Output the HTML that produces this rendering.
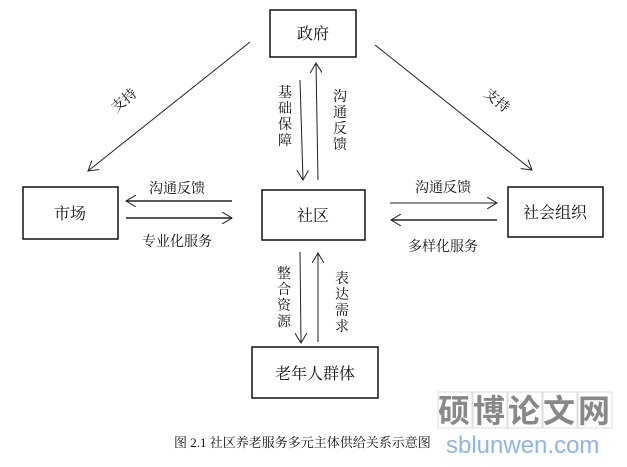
<!DOCTYPE html>
<html><head><meta charset="utf-8"><style>
body{margin:0;background:#fff}
svg text{font-family:"Liberation Serif","Noto Serif CJK SC","Noto Sans CJK SC",serif;fill:#111}
</style></head><body>
<svg width="627" height="462" viewBox="0 0 627 462" xmlns="http://www.w3.org/2000/svg">
<defs><marker id="a" markerWidth="12" markerHeight="12" refX="10" refY="6" orient="auto" markerUnits="userSpaceOnUse"><path d="M0,0 L10,6 L0,12" fill="none" stroke="#222" stroke-width="1"/></marker></defs>
<g fill="none" stroke="#111" stroke-width="1.5">
<rect x="270" y="10" width="86" height="47"/>
<rect x="23" y="187" width="95" height="52"/>
<rect x="262" y="190" width="103" height="50"/>
<rect x="508" y="187" width="95" height="50"/>
<rect x="252" y="347" width="126" height="51"/>
</g>
<g stroke="#222" stroke-width="1" marker-end="url(#a)">
<line x1="250" y1="42" x2="88" y2="171"/>
<line x1="375" y1="45" x2="532" y2="170"/>
<line x1="300" y1="80" x2="303" y2="180"/>
<line x1="318" y1="180" x2="316" y2="63"/>
<line x1="300" y1="252" x2="301" y2="343"/>
<line x1="318" y1="342" x2="318" y2="253"/>
<line x1="232" y1="201" x2="126" y2="201" stroke-width="1.5"/>
<line x1="126" y1="218" x2="232" y2="218" stroke-width="1.5"/>
<line x1="390" y1="203" x2="497" y2="203"/>
<line x1="497" y1="220" x2="391" y2="220" stroke-width="1.5"/>
</g>
<g font-size="16" text-anchor="middle">
<text x="313" y="39">政府</text>
<text x="70" y="219">市场</text>
<text x="313" y="221">社区</text>
<text x="555" y="218">社会组织</text>
<text x="315" y="379">老年人群体</text>
</g>
<g font-size="14" text-anchor="middle">
<text transform="translate(127,104) rotate(-40)">支持</text>
<text transform="translate(494,104) rotate(40)">支持</text>
<text x="177" y="193">沟通反馈</text>
<text x="177" y="246">专业化服务</text>
<text x="443" y="192">沟通反馈</text>
<text x="443" y="251">多样化服务</text>
<text x="285" y="97">基</text><text x="285" y="113">础</text><text x="285" y="129">保</text><text x="285" y="145">障</text>
<text x="340" y="101">沟</text><text x="340" y="117">通</text><text x="340" y="133">反</text><text x="340" y="149">馈</text>
<text x="284" y="278">整</text><text x="284" y="294">合</text><text x="284" y="310">资</text><text x="284" y="326">源</text>
<text x="342" y="283">表</text><text x="342" y="299">达</text><text x="342" y="315">需</text><text x="342" y="331">求</text>
</g>
<text x="174" y="447" font-size="13">图 2.1  社区养老服务多元主体供给关系示意图</text>
<g fill="#bbb" stroke="#ddd">
<rect x="438" y="392" width="34" height="36" fill="none"/><rect x="473" y="392" width="34" height="36" fill="none"/><rect x="508" y="392" width="34" height="36" fill="none"/><rect x="543" y="392" width="34" height="36" fill="none"/><rect x="578" y="392" width="34" height="36" fill="none"/>
</g>
<text x="438" y="422" font-size="32" font-weight="bold" style="fill:#888;font-family:'Noto Sans CJK SC',sans-serif" letter-spacing="3">硕博论文网</text>
<text x="446" y="453" font-size="24" style="fill:#8fb4e8;font-family:'Liberation Sans',sans-serif">sblunwen.com</text>
</svg>
</body></html>
